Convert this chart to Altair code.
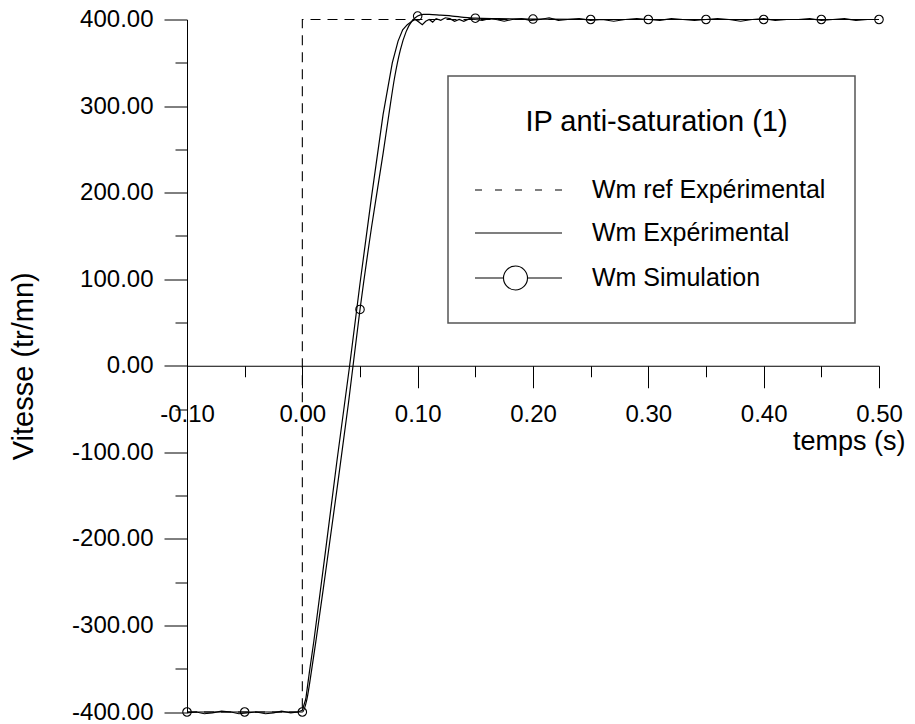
import altair as alt
import pandas as pd

FONT = "Liberation Sans"

# ---------------- data ----------------
ref_t = [-0.10, 0.00, 0.00, 0.50]
ref_w = [-400, -400, 400, 400]

exp_t = [-0.100, -0.092, -0.085, -0.078, -0.070, -0.062, -0.055, -0.048, -0.040, -0.032,
         -0.025, -0.018, -0.010, -0.004, 0.000, 0.003, 0.006, 0.010, 0.020, 0.030,
         0.041, 0.050, 0.060, 0.070, 0.078, 0.083, 0.087, 0.091, 0.095, 0.098,
         0.101, 0.104, 0.107, 0.110, 0.113, 0.116, 0.120, 0.124, 0.128, 0.132,
         0.136, 0.140, 0.145, 0.150, 0.156, 0.162, 0.168, 0.175, 0.182, 0.190,
         0.198, 0.206, 0.214, 0.222, 0.230, 0.240, 0.250, 0.260, 0.270, 0.280,
         0.290, 0.300, 0.310, 0.320, 0.330, 0.340, 0.350, 0.360, 0.370, 0.380,
         0.390, 0.400, 0.410, 0.420, 0.430, 0.440, 0.450, 0.460, 0.470, 0.480,
         0.490, 0.500]
exp_w = [-401, -400, -402, -401, -399, -400, -402, -401, -400, -402,
         -401, -399, -401, -400, -398, -385, -355, -318, -215, -110,
         0, 95, 195, 290, 350, 375, 388, 394, 398, 400,
         397, 394, 398, 400, 397, 401, 399, 402, 401, 398,
         400, 398, 401, 400, 399, 401, 400, 398, 400, 401,
         399, 400, 402, 399, 400, 401, 399, 400, 398, 400,
         401, 400, 399, 401, 400, 399, 400, 401, 400, 398,
         400, 401, 399, 400, 400, 401, 399, 400, 401, 399,
         400, 400]

sim_t = [-0.10, -0.05, 0.000, 0.004, 0.008, 0.012, 0.020, 0.030, 0.040, 0.050,
         0.060, 0.070, 0.075, 0.080, 0.085, 0.090, 0.095, 0.100, 0.105, 0.110,
         0.120, 0.130, 0.140, 0.150, 0.170, 0.200, 0.250, 0.300, 0.350, 0.400,
         0.450, 0.500]
sim_w = [-400, -400, -400, -385, -352, -316, -240, -143, -43, 65,
         160, 245, 290, 333, 365, 386, 398, 404, 406, 406,
         405, 404, 402.5, 401.5, 401, 400.5, 400, 400, 400, 400,
         400, 400]

marker_t = [-0.10, -0.05, 0.00, 0.05, 0.10, 0.15, 0.20, 0.25, 0.30, 0.35, 0.40, 0.45, 0.50]
marker_w = [-400, -400, -400, 65, 404, 401.5, 400.5, 400, 400, 400, 400, 400, 400]

x_major = [-0.10, 0.00, 0.10, 0.20, 0.30, 0.40, 0.50]
x_minor = [-0.05, 0.05, 0.15, 0.25, 0.35, 0.45]
y_major = [-400, -300, -200, -100, 0, 100, 200, 300, 400]
y_minor = [-350, -250, -150, -50, 50, 150, 250, 350]

x_title = "temps (s)"
y_title = "Vitesse (tr/mn)"
legend_title = "IP anti-saturation (1)"
legend_labels = ["Wm ref Expérimental", "Wm Expérimental", "Wm Simulation"]

# ---------------- layout ----------------
W, H = 692, 692.5
AX_OFFSET = -(H / 2)          # x axis drawn at y = 0
HYPHEN = "replace(datum.label, '\u2212', '-')"

ref_df = pd.DataFrame({"t": ref_t, "w": ref_w, "i": list(range(len(ref_t)))})
exp_df = pd.DataFrame({"t": exp_t, "w": exp_w})
sim_df = pd.DataFrame({"t": sim_t, "w": sim_w})
mk_df = pd.DataFrame({"t": marker_t, "w": marker_w})

xs = alt.Scale(domain=[-0.10, 0.50], nice=False, zero=False)
ys = alt.Scale(domain=[-400, 400], nice=False, zero=False)

common_axis = dict(grid=False, domainColor="black", tickColor="black", tickWidth=1,
                   domainWidth=1, labelColor="black", labelFont=FONT,
                   titleFont=FONT, titleColor="black", titleFontWeight="normal",
                   labelFlush=False, labelOverlap=False, labelExpr=HYPHEN)

ax_x_major = alt.Axis(values=x_major, format=".2f", orient="bottom", offset=AX_OFFSET,
                      tickSize=22, labelFontSize=24, labelPadding=15, labelAngle=0,
                      title=x_title, titleFontSize=27, titleX=718, titleY=76,
                      titleAlign="right", titleBaseline="middle", titleAngle=0,
                      **common_axis)
ax_x_minor = alt.Axis(values=x_minor, orient="bottom", offset=AX_OFFSET, tickSize=11,
                      labels=False, domain=False, title=None, grid=False,
                      tickColor="black", tickWidth=1)
ax_y_major = alt.Axis(values=y_major, format=".2f", orient="left", tickSize=23,
                      labelFontSize=24, labelPadding=11,
                      title=y_title, titleFontSize=29, titleX=-164, titleY=H / 2,
                      titleAngle=270, titleAlign="center", titleBaseline="middle",
                      **common_axis)
ax_y_minor = alt.Axis(values=y_minor, orient="left", tickSize=12, labels=False,
                      domain=False, title=None, grid=False, tickColor="black", tickWidth=1)

ref_line = alt.Chart(ref_df).mark_line(color="black", strokeWidth=1.1, strokeDash=[10, 7]).encode(
    x=alt.X("t:Q", scale=xs, axis=ax_x_major),
    y=alt.Y("w:Q", scale=ys, axis=ax_y_major),
    order="i:Q",
)
exp_line = alt.Chart(exp_df).mark_line(color="black", strokeWidth=1.2).encode(
    x=alt.X("t:Q", scale=xs, axis=ax_x_minor),
    y=alt.Y("w:Q", scale=ys, axis=ax_y_minor),
)
sim_line = alt.Chart(sim_df).mark_line(color="black", strokeWidth=1.2, interpolate="monotone").encode(
    x=alt.X("t:Q", scale=xs, axis=None),
    y=alt.Y("w:Q", scale=ys, axis=None),
)
sim_pts = alt.Chart(mk_df).mark_point(shape="circle", filled=False, color="black",
                                      strokeWidth=1.1, size=72, opacity=1).encode(
    x=alt.X("t:Q", scale=xs, axis=None),
    y=alt.Y("w:Q", scale=ys, axis=None),
)

# ---------------- legend (drawn in pixel space of the plot area) ----------------
one = pd.DataFrame({"k": [0]})
LX0, LX1, LY0, LY1 = 261, 668, 56.5, 303.5
entry_y = [170.5, 213.5, 258.5]
sym_x0, sym_x1, txt_x = 288, 375, 405

legend_layers = [
    alt.Chart(one).mark_rect(fill="white", stroke="#555555", strokeWidth=1.5).encode(
        x=alt.value(LX0), x2=alt.value(LX1), y=alt.value(LY0), y2=alt.value(LY1)),
    alt.Chart(one).mark_text(font=FONT, fontSize=29, color="black", align="center",
                             baseline="middle").encode(
        x=alt.value((LX0 + LX1) / 2 + 5), y=alt.value(102.5), text=alt.value(legend_title)),
]
dashes = [[7, 13], None, None]
for lab, yy, dash in zip(legend_labels, entry_y, dashes):
    rule_kw = dict(color="black", strokeWidth=1.1)
    if dash:
        rule_kw["strokeDash"] = dash
    legend_layers.append(alt.Chart(one).mark_rule(**rule_kw).encode(
        x=alt.value(sym_x0), x2=alt.value(sym_x1), y=alt.value(yy)))
    legend_layers.append(alt.Chart(one).mark_text(font=FONT, fontSize=25, color="black",
                                                  align="left", baseline="middle").encode(
        x=alt.value(txt_x), y=alt.value(yy), text=alt.value(lab)))
legend_layers.append(alt.Chart(one).mark_point(shape="circle", filled=True, fill="white",
                                               stroke="black", strokeWidth=1.1, size=576,
                                               opacity=1).encode(
    x=alt.value((sym_x0 + sym_x1) / 2 - 3), y=alt.value(entry_y[2])))

chart = alt.layer(ref_line, exp_line, sim_line, sim_pts, *legend_layers).resolve_axis(
    x="independent", y="independent"
).properties(
    width=W, height=H,
    padding={"left": 179, "top": 11.5, "right": 28, "bottom": 14},
    autosize=alt.AutoSizeParams(type="none"),
    background="white",
).configure_view(stroke=None)

chart.save("out.html", embed_options={"renderer": "svg", "actions": False})
